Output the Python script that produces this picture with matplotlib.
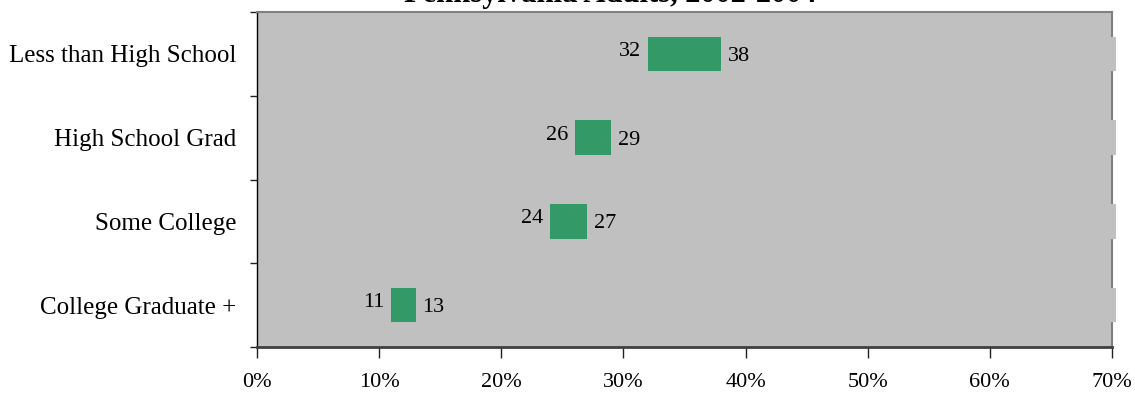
import matplotlib
matplotlib.use("Agg")
import matplotlib.pyplot as plt

categories = ["Less than High School", "High School Grad", "Some College", "College Graduate +"]
lower = [32, 26, 24, 11]
upper = [38, 29, 27, 13]
x_ticks = [0, 10, 20, 30, 40, 50, 60, 70]
x_tick_labels = ["0%", "10%", "20%", "30%", "40%", "50%", "60%", "70%"]
title = "Pennsylvania Adults, 2002-2004"

plt.rcParams["font.family"] = ["Liberation Serif", "DejaVu Serif"]

fig = plt.figure(figsize=(11.35, 3.93), dpi=100)
ax = fig.add_axes([257 / 1135, 1 - 347 / 393, (1112 - 257) / 1135, (347 - 12) / 393])
ax.set_facecolor("#C0C0C0")

ypos = list(range(len(categories)))
widths = [u - l for l, u in zip(lower, upper)]
ax.barh(ypos, widths, left=lower, height=0.41, color="#339966", zorder=3)

# filler segment running to the right edge of the scale
fill_w = [70.35 - u for u in upper]
ax.barh(ypos, fill_w, left=upper, height=0.41, color="#C0C0C0", zorder=4, clip_on=False)

for y, l, u in zip(ypos, lower, upper):
    ax.text(l - 0.55, y - 0.03, f"{l}", ha="right", va="center", fontsize=16, zorder=5)
    ax.text(u + 0.55, y + 0.03, f"{u}", ha="left", va="center", fontsize=16, zorder=5)

ax.set_xlim(0, 70)
ax.set_ylim(3.5, -0.5)
ax.set_xticks(x_ticks)
ax.set_xticklabels(x_tick_labels, fontsize=16)
ax.tick_params(axis="x", direction="out", length=8, width=1, color="#222222", pad=11)

ax.set_yticks(ypos)
ax.set_yticklabels(categories, fontsize=18)
ax.tick_params(axis="y", which="major", length=0, pad=15)
ax.set_yticks([-0.5, 0.5, 1.5, 2.5, 3.5], minor=True)
ax.tick_params(axis="y", which="minor", direction="out", length=5, width=1, color="#222222")

ax.spines["left"].set_color("black")
ax.spines["left"].set_linewidth(1)
ax.spines["bottom"].set_color("#404040")
ax.spines["bottom"].set_linewidth(2)
ax.spines["top"].set_color("#808080")
ax.spines["top"].set_linewidth(1.5)
ax.spines["right"].set_color("#808080")
ax.spines["right"].set_linewidth(1.5)

fig.text(610 / 1135, 1 - 2 / 393, title, ha="center", va="baseline",
         fontsize=22, fontweight="bold")

fig.savefig("out.png", dpi=100)
